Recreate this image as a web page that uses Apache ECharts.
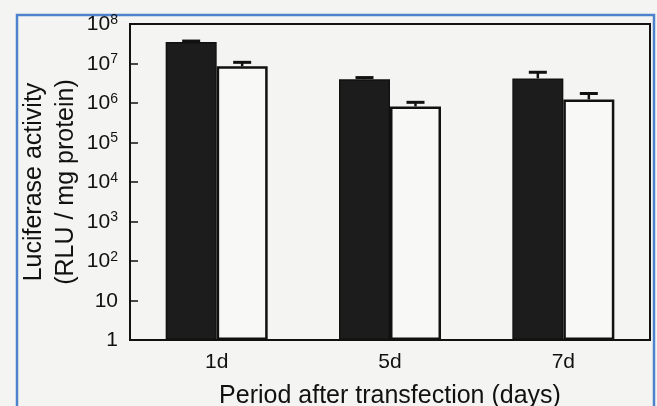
<!DOCTYPE html>
<html>
<head>
<meta charset="utf-8">
<script src="https://cdn.jsdelivr.net/npm/echarts@6/dist/echarts.min.js"></script>
<style>html,body{margin:0;padding:0;background:#f4f4f2;}#c{width:657px;height:406px;}</style>
</head>
<body>
<div id="c"></div>
<script>
const categories = ['1d', '5d', '7d'];
const blackValues = [3.5e7, 4.0e6, 4.2e6];
const blackErrTop = [3.7e7, 4.4e6, 6.0e6];
const whiteValues = [8.5e6, 8.2e5, 1.23e6];
const whiteErrTop = [1.07e7, 1.04e6, 1.74e6];
const yTickExponents = [0, 1, 2, 3, 4, 5, 6, 7, 8];

const FONT = 'Liberation Sans, Arial, sans-serif';
const BAR_W = 51;

function errSeries(name, vals, tops, side) {
  return {
    type: 'custom',
    name: name,
    z: 5,
    data: vals.map((v, i) => [i, v, tops[i]]),
    renderItem: function (params, api) {
      const i = api.value(0);
      const base = api.coord([i, api.value(1)]);
      const top = api.coord([i, api.value(2)]);
      const x = base[0] + side * BAR_W / 2;
      const cap = 9;
      return {
        type: 'group',
        children: [
          { type: 'line', shape: { x1: x, y1: base[1], x2: x, y2: top[1] }, style: { stroke: '#111', lineWidth: 2.5 } },
          { type: 'line', shape: { x1: x - cap, y1: top[1], x2: x + cap, y2: top[1] }, style: { stroke: '#111', lineWidth: 3 } }
        ]
      };
    }
  };
}

const chart = echarts.init(document.getElementById('c'));
chart.setOption({
  backgroundColor: '#f4f4f2',
  animation: false,
  textStyle: { fontFamily: FONT },
  graphic: [{
    type: 'rect', z: -1, silent: true,
    shape: { x: 17, y: 15, width: 637, height: 440 },
    style: { fill: 'none', stroke: '#4d82cc', lineWidth: 2.5 }
  }],
  grid: {
    left: 130, right: 7, top: 24, bottom: 66,
    containLabel: false, outerBoundsMode: 'none',
    show: true, borderColor: '#111', borderWidth: 2, backgroundColor: 'transparent'
  },
  xAxis: {
    type: 'category',
    data: categories,
    name: 'Period after transfection (days)',
    nameLocation: 'middle',
    nameGap: 44,
    nameMoveOverlap: false,
    nameTextStyle: { fontSize: 25, color: '#111', fontFamily: FONT },
    axisLine: { lineStyle: { color: '#111', width: 2 } },
    axisTick: { inside: true, length: 6, lineStyle: { color: '#111', width: 1.5 } },
    axisLabel: { fontSize: 21, color: '#111', margin: 12, fontFamily: FONT }
  },
  yAxis: {
    type: 'log',
    logBase: 10,
    min: 1,
    max: 1e8,
    name: 'Luciferase activity\n(RLU / mg protein)',
    nameLocation: 'middle',
    nameGap: 48,
    nameMoveOverlap: false,
    nameRotate: 90,
    nameTextStyle: { fontSize: 25, lineHeight: 32, color: '#111', fontFamily: FONT },
    axisLine: { show: true, lineStyle: { color: '#111', width: 2 } },
    axisTick: { show: true, inside: true, length: 8, lineStyle: { color: '#111', width: 1.5 } },
    splitLine: { show: false },
    axisLabel: {
      margin: 12,
      color: '#111',
      fontFamily: FONT,
      formatter: function (v) {
        const e = Math.round(Math.log10(v));
        if (yTickExponents.indexOf(e) < 0) return '';
        if (e === 0) return '{b|1}';
        if (e === 1) return '{b|10}';
        return '{b|10}{s|' + e + '}';
      },
      rich: {
        b: { fontSize: 21, color: '#111', fontFamily: FONT, lineHeight: 22, verticalAlign: 'bottom' },
        s: { fontSize: 14, color: '#111', fontFamily: FONT, lineHeight: 22, verticalAlign: 'top', padding: [0, 0, 6, 0] }
      }
    }
  },
  series: [
    {
      type: 'bar', name: 'black', data: blackValues,
      barWidth: BAR_W, barGap: '0%',
      itemStyle: { color: '#1c1c1c', borderColor: '#111', borderWidth: 1.5 }
    },
    {
      type: 'bar', name: 'white', data: whiteValues,
      barWidth: BAR_W, barGap: '0%',
      itemStyle: { color: '#f8f8f6', borderColor: '#111', borderWidth: 2.5 }
    },
    errSeries('black err', blackValues, blackErrTop, -1),
    errSeries('white err', whiteValues, whiteErrTop, 1)
  ]
});
</script>
</body>
</html>
